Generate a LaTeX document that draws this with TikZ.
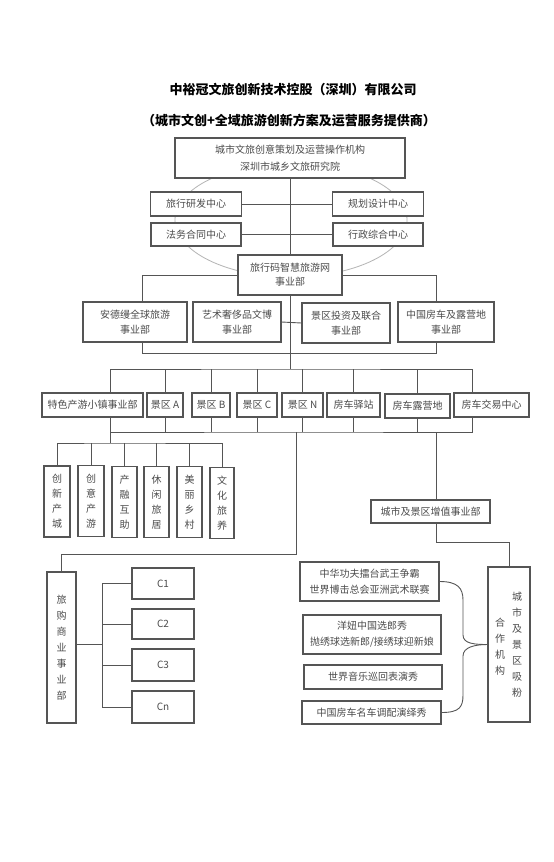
\documentclass[tikz,border=0pt]{standalone}
\usepackage{fontspec}
\newfontfamily\cjk{Noto Sans CJK SC}
\definecolor{linegray}{RGB}{85,85,85}
\definecolor{textgray}{RGB}{75,75,75}
\definecolor{ringgray}{RGB}{180,180,180}
\tikzset{
	box/.style={draw=linegray,line width=1.1pt,fill=white,text=textgray,inner sep=0pt,align=center,font=\cjk\fontsize{10}{16}\selectfont},
	vbox/.style={box,text width=1em,font=\cjk\fontsize{10}{15}\selectfont},
	vtext/.style={text=textgray,inner sep=0pt,align=center,text width=1em,font=\cjk\fontsize{10}{16}\selectfont},
	link/.style={draw=linegray,line width=0.9pt},
	headline/.style={inner sep=0pt,font=\cjk\bfseries\fontsize{13}{13}\selectfont}
}
\begin{document}
\begin{tikzpicture}[x=1pt,y=-1pt]
	\useasboundingbox[fill=white] (0,0) rectangle (554,862);
	\node[headline] (title) at (293,90) {中裕冠文旅创新技术控股（深圳）有限公司};
	\node[headline] (subtitle) at (289,121) {（城市文创+全域旅游创新方案及运营服务提供商）};
	\draw[ringgray,line width=0.8pt] (291,220) ellipse (116 and 57);
	\node[box,minimum width=230,minimum height=40,font=\cjk\fontsize{10}{17}\selectfont] (top) at (290,158) {城市文旅创意策划及运营操作机构\\深圳市城乡文旅研究院};
	\node[box,minimum width=91,minimum height=24] (rd) at (196,204) {旅行研发中心};
	\node[box,minimum width=91,minimum height=24] (gh) at (378,204) {规划设计中心};
	\node[box,minimum width=90,minimum height=23] (fw) at (196,234.5) {法务合同中心};
	\node[box,minimum width=90,minimum height=23] (xz) at (378,234.5) {行政综合中心};
	\node[box,minimum width=104,minimum height=40,font=\cjk\fontsize{10}{14}\selectfont] (lx) at (290,275) {旅行码智慧旅游网\\事业部};
	\node[box,minimum width=104,minimum height=40,font=\cjk\fontsize{10}{15}\selectfont] (adm) at (135,322) {安德缦全球旅游\\事业部};
	\node[box,minimum width=88,minimum height=40,font=\cjk\fontsize{10}{15}\selectfont] (ys) at (237,322) {艺术奢侈品文博\\事业部};
	\node[box,minimum width=88,minimum height=40,font=\cjk\fontsize{10}{15}\selectfont] (jt) at (346,323) {景区投资及联合\\事业部};
	\node[box,minimum width=96,minimum height=40,font=\cjk\fontsize{10}{15}\selectfont] (zg) at (446,322) {中国房车及露营地\\事业部};
	\node[box,minimum width=101,minimum height=24] (ts) at (92.5,405) {特色产游小镇事业部};
	\node[box,minimum width=36,minimum height=24] (za) at (165,405) {景区 A};
	\node[box,minimum width=38,minimum height=24] (zb) at (211,405) {景区 B};
	\node[box,minimum width=40,minimum height=24] (zc) at (257,405) {景区 C};
	\node[box,minimum width=41,minimum height=24] (zn) at (302.5,405) {景区 N};
	\node[box,minimum width=53,minimum height=24] (yz) at (353.5,405) {房车驿站};
	\node[box,minimum width=65,minimum height=24] (ly) at (417.5,406) {房车露营地};
	\node[box,minimum width=75,minimum height=24] (jy) at (491.5,405) {房车交易中心};
	\node[vbox,minimum width=26,minimum height=71] (v1) at (57,501.5) {创\\新\\产\\城};
	\node[vbox,minimum width=26,minimum height=71] (v2) at (91,501) {创\\意\\产\\游};
	\node[vbox,minimum width=25,minimum height=71] (v3) at (124.5,502) {产\\融\\互\\助};
	\node[vbox,minimum width=25,minimum height=71] (v4) at (156.5,502) {休\\闲\\旅\\居};
	\node[vbox,minimum width=25,minimum height=71] (v5) at (189.5,502) {美\\丽\\乡\\村};
	\node[vbox,minimum width=24,minimum height=71] (v6) at (222,503) {文\\化\\旅\\养};
	\node[box,minimum width=119,minimum height=23] (zz) at (430.5,511.5) {城市及景区增值事业部};
	\node[vbox,minimum width=29,minimum height=151,font=\cjk\fontsize{10}{16}\selectfont] (lg) at (61.5,647.5) {旅\\购\\商\\业\\事\\业\\部};
	\node[box,minimum width=62,minimum height=31] (c1) at (163,583.5) {C1};
	\node[box,minimum width=62,minimum height=30] (c2) at (163,624) {C2};
	\node[box,minimum width=62,minimum height=32] (c3) at (163,665) {C3};
	\node[box,minimum width=62,minimum height=32] (cn) at (163,707) {Cn};
	\node[box,minimum width=139,minimum height=39] (e1) at (369.5,581.5) {中华功夫擂台武王争霸\\世界博击总会亚洲武术联赛};
	\node[box,minimum width=138,minimum height=39] (e2) at (372,634.5) {洋妞中国选郎秀\\抛绣球选新郎/接绣球迎新娘};
	\node[box,minimum width=138,minimum height=24] (e3) at (373,677) {世界音乐巡回表演秀};
	\node[box,minimum width=139,minimum height=23] (e4) at (371.5,712.5) {中国房车名车调配演绎秀};
	\node[box,minimum width=42,minimum height=155] (hz) at (509,644.5) {};
	\node[vtext] (hzr) at ([xshift=8pt,yshift=-0.5pt]hz.center) {城\\市\\及\\景\\区\\吸\\粉};
	\node[vtext] (hzl) at ([xshift=-9pt,yshift=-2.5pt]hz.center) {合\\作\\机\\构};
	\coordinate (hub) at (290,369);
	\coordinate (lowhub) at (296,432);
	\coordinate (thub) at (110,443);
	\coordinate (cb) at (102,644);
	\draw[link] (top.south) -- (lx.north);
	\draw[link] (rd.east) -- (gh.west);
	\draw[link] (fw.east) -- (xz.west);
	\draw[link] (lx.west) -| ([xshift=7pt]adm.north);
	\draw[link] (lx.east) -| ([xshift=-10pt]zg.north);
	\draw[link] ([xshift=7pt]adm.south) -- ++(0,11) -| ([xshift=-10pt]zg.south);
	\draw[link] (ys.east) -- (jt.west);
	\draw[link] (lx.south) -- (hub);
	\draw[link] ([xshift=17.5pt]ts.north) |- (hub) -| ([xshift=-19.5pt]jy.north);
	\foreach \n in {za,zb,zc,zn,yz,ly}
		\draw[link] (\n.north) -- (\n.north |- hub);
	\draw[link] ([xshift=17.5pt]ts.south) |- (lowhub) -| ([xshift=-19.5pt]jy.south);
	\foreach \n in {za,zb,zc,zn,yz,ly}
		\draw[link] (\n.south) -- (\n.south |- lowhub);
	\draw[link] ([xshift=17.5pt]ts.south) -- (thub);
	\draw[link] (v1.north) |- (thub) -| (v6.north);
	\foreach \n in {v2,v3,v4,v5}
		\draw[link] (\n.north) -- (\n.north |- thub);
	\draw[link] (lowhub) -- ++(0,122) -| (lg.north);
	\draw[link] ([xshift=6pt]zz.north) -- ([xshift=6pt]zz.north |- lowhub);
	\draw[link] ([xshift=6pt]zz.south) -- ++(0,19) -| (hz.north);
	\draw[link] ([yshift=3.5pt]lg.east) -- (cb);
	\draw[link] (c1.west) -| (cb);
	\draw[link] (cn.west) -| (cb);
	\draw[link] (c2.west) -- (c2.west -| cb);
	\draw[link] (c3.west) -- (c3.west -| cb);
	\draw[link] (e1.east) .. controls +(18,0) and +(0,-12) .. (463,600) -- (463,635) .. controls +(0,9) and +(-12,0) .. (hz.west);
	\draw[link] (hz.west) .. controls +(-12,0) and +(0,-9) .. (463,656) -- (463,695) .. controls +(0,12) and +(18,0) .. (e4.east);
\end{tikzpicture}
\end{document}
